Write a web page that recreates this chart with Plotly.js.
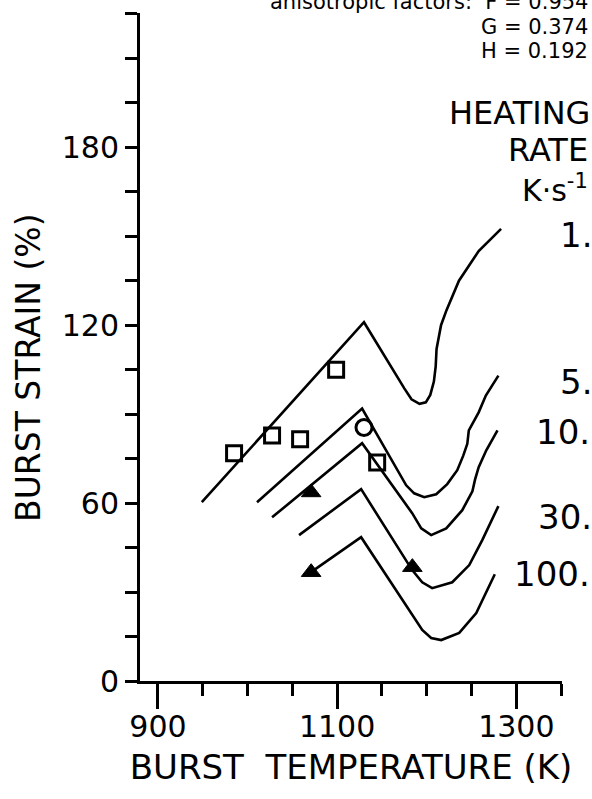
<!DOCTYPE html>
<html>
<head>
<meta charset="utf-8">
<script src="https://cdn.plot.ly/plotly-3.0.1.min.js"></script>
<style>html,body{margin:0;padding:0;background:#fff;}#chart{width:592px;height:799px;}</style>
</head>
<body>
<div id="chart"></div>
<script>
// Heating-rate curves (burst temperature K, burst strain %)
const rate1_x = [949, 1130, 1175, 1183, 1192, 1199, 1204, 1208, 1210, 1211, 1216, 1222, 1236, 1258, 1283];
const rate1_y = [60.3, 121, 98.7, 95, 93.5, 94, 96.5, 101, 106, 112, 120, 125, 135, 145, 152.5];
const rate5_x = [1010.6, 1127.9, 1177.1, 1186, 1197.2, 1210.6, 1222.9, 1234.1, 1240.8, 1245.3, 1247, 1258, 1266, 1280];
const rate5_y = [60.3, 91.9, 66, 63.3, 62, 63, 66.4, 71.1, 76, 80, 84.5, 90.6, 96.3, 103];
const rate10_x = [1027.4, 1127.9, 1183.8, 1193.9, 1205, 1221.8, 1239.7, 1251, 1254, 1258, 1266.5, 1279];
const rate10_y = [55.2, 80.2, 56.6, 51.5, 49.2, 51.5, 57.6, 64, 68, 72.1, 77.8, 84.5];
const rate30_x = [1057.5, 1126.8, 1183.8, 1195, 1206.1, 1228.5, 1247.5, 1262, 1280];
const rate30_y = [49.2, 64.7, 37.4, 33.3, 31.3, 33.3, 39.1, 47.5, 59];
const rate100_x = [1070.9, 1126.8, 1195, 1205, 1216.2, 1236.3, 1255.3, 1276];
const rate100_y = [36.7, 48.5, 17.2, 14.5, 13.8, 16.2, 22.9, 36];

// Measured points
const square_x = [985, 1027.4, 1058.7, 1098.9, 1144.7];
const square_y = [76.8, 82.8, 81.5, 105, 73.7];
const circle_x = [1130];
const circle_y = [85.5];
const triangle_x = [1071, 1071, 1184];
const triangle_y = [63.6, 36.7, 38.4];

// Labels
const rateLabels = ["1.", "5.", "10.", "30.", "100."];
const xTickVals = [900, 1100, 1300];
const xTickText = ["900", "1100", "1300"];
const yTickVals = [0, 60, 120, 180];
const yTickText = ["0", "60", "120", "180"];
const yTitle = "BURST STRAIN (%)";
const xTitle = "BURST  TEMPERATURE (K)";

const FONT = "DejaVu Sans, sans-serif";
const W = 592, H = 799;
const L = 140, R = 562, T = 13, B = 681;
const px = v => (v - L) / (R - L);
const py = v => (B - v) / (B - T);

const lineStyle = {color: "#000", width: 2.6};
const curves = [[rate1_x, rate1_y], [rate5_x, rate5_y], [rate10_x, rate10_y], [rate30_x, rate30_y], [rate100_x, rate100_y]];
const traces = curves.map((c, i) => ({
  x: c[0], y: c[1], mode: "lines", type: "scatter", line: lineStyle,
  name: rateLabels[i], showlegend: false, hoverinfo: "skip"
}));
traces.push({x: square_x, y: square_y, mode: "markers", type: "scatter", showlegend: false,
  marker: {symbol: "square-open", size: 15, color: "#000", line: {color: "#000", width: 3}}});
traces.push({x: circle_x, y: circle_y, mode: "markers", type: "scatter", showlegend: false,
  marker: {symbol: "circle-open", size: 16, color: "#000", line: {color: "#000", width: 3}}});
traces.push({x: triangle_x, y: triangle_y, mode: "markers", type: "scatter", showlegend: false,
  marker: {symbol: "triangle-up", size: 17, color: "#000", line: {color: "#000", width: 1}}});

const ann = (text, x, y, size, extra) => Object.assign({
  text: text, xref: "paper", yref: "paper", x: px(x), y: py(y),
  xanchor: "right", yanchor: "middle", showarrow: false,
  font: {family: FONT, size: size, color: "#000"}
}, extra || {});

const annotations = [
  ann("anisotropic factors:  F = 0.954", 590, 2, 21),
  ann("G = 0.374", 590, 27, 21),
  ann("H = 0.192", 590, 51, 21),
  ann("HEATING", 592, 113, 32),
  ann("RATE", 590, 150, 32),
  ann("K·s<sup>-1</sup>", 590, 189, 30),
  ann(rateLabels[0], 594, 235, 34),
  ann(rateLabels[1], 594, 382, 34),
  ann(rateLabels[2], 592, 432, 34),
  ann(rateLabels[3], 594, 517, 34),
  ann(rateLabels[4], 592, 574, 34),
  ann(yTitle, 28, 368, 33, {xanchor: "center", textangle: -90})
];

const layout = {
  width: W, height: H,
  margin: {l: L, r: W - R, t: T, b: H - B, pad: 0},
  paper_bgcolor: "#fff", plot_bgcolor: "#fff",
  showlegend: false,
  font: {family: FONT, color: "#000"},
  xaxis: {
    range: [880, 1351], showgrid: false, zeroline: false,
    showline: true, linecolor: "#000", linewidth: 3,
    tickmode: "array", tickvals: xTickVals, ticktext: xTickText,
    ticks: "outside", ticklen: 25, tickwidth: 3, tickcolor: "#000",
    minor: {tickmode: "linear", tick0: 900, dtick: 50, ticks: "outside", ticklen: 12, tickwidth: 3, tickcolor: "#000", showgrid: false},
    tickfont: {family: FONT, size: 30, color: "#000"},
    ticklabelstandoff: -8,
    title: {text: xTitle, font: {family: FONT, size: 34, color: "#000"}, standoff: 13}
  },
  yaxis: {
    range: [0, 225.3], showgrid: false, zeroline: false,
    showline: true, linecolor: "#000", linewidth: 3,
    tickmode: "array", tickvals: yTickVals, ticktext: yTickText,
    ticks: "outside", ticklen: 12, tickwidth: 3, tickcolor: "#000",
    minor: {tickmode: "linear", tick0: 0, dtick: 15, ticks: "outside", ticklen: 12, tickwidth: 3, tickcolor: "#000", showgrid: false},
    tickfont: {family: FONT, size: 30, color: "#000"},
    ticklabelstandoff: 0
  },
  yaxis2: {
    overlaying: "y", side: "left", anchor: "x", range: [0, 225.3],
    showgrid: false, zeroline: false, showline: false,
    tickmode: "array", tickvals: yTickVals, showticklabels: false,
    ticks: "inside", ticklen: 13, tickwidth: 3, tickcolor: "#000"
  },
  annotations: annotations
};

Plotly.newPlot("chart", traces, layout, {staticPlot: true, displayModeBar: false});
</script>
</body>
</html>
